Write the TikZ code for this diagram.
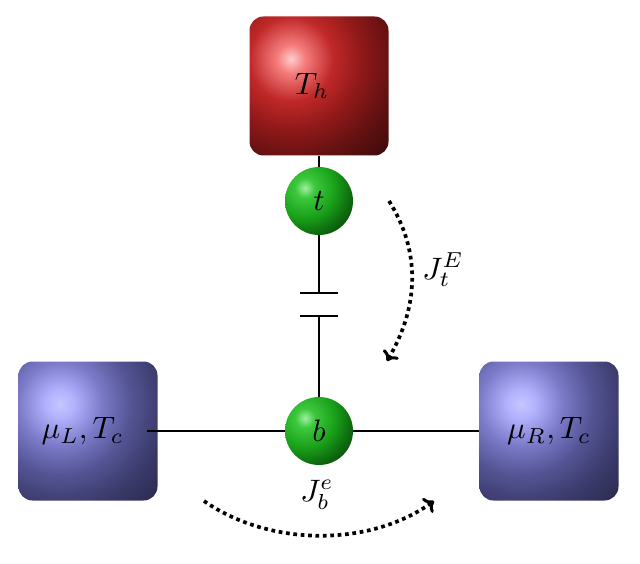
\documentclass[tikz,border=0pt]{standalone}
\usetikzlibrary{arrows.meta,shadings}
\definecolor{ra}{RGB}{255,205,205}\definecolor{rb}{RGB}{245,125,125}\definecolor{rc}{RGB}{192,40,40}\definecolor{rd}{RGB}{145,25,25}\definecolor{re}{RGB}{100,17,17}\definecolor{rf}{RGB}{55,10,10}
\definecolor{ba}{RGB}{198,198,255}\definecolor{bb}{RGB}{178,178,255}\definecolor{bc}{RGB}{122,122,200}\definecolor{bd}{RGB}{85,85,150}\definecolor{be}{RGB}{60,60,110}\definecolor{bf}{RGB}{40,40,75}
\definecolor{ga}{RGB}{160,238,160}\definecolor{gb}{RGB}{60,200,60}\definecolor{gc}{RGB}{25,160,25}\definecolor{gd}{RGB}{15,110,15}\definecolor{ge}{RGB}{10,85,10}
\pgfdeclareradialshading{boxred}{\pgfpointorigin}{color(0bp)=(ra);color(2.5bp)=(rb);color(7.5bp)=(rc);color(12.5bp)=(rd);color(17.9bp)=(re);color(25bp)=(rf);color(50bp)=(rf)}
\pgfdeclareradialshading{boxblue}{\pgfpointorigin}{color(0bp)=(ba);color(2.5bp)=(bb);color(7.5bp)=(bc);color(12.5bp)=(bd);color(17.9bp)=(be);color(25bp)=(bf);color(50bp)=(bf)}
\pgfdeclareradialshading{ballgreen}{\pgfpointorigin}{color(0bp)=(ga);color(4.6bp)=(gb);color(13.9bp)=(gc);color(20.8bp)=(gd);color(25bp)=(ge);color(50bp)=(ge)}
\begin{document}
\begin{tikzpicture}[x=1pt,y=-1pt,
 sq/.style={minimum size=139pt,inner sep=0pt,rounded corners=14pt,path picture={
   \shade[shading=#1] ([xshift=-28pt,yshift=27pt]path picture bounding box.center) circle (140pt);}},
 ballnode/.style={circle,minimum size=68pt,inner sep=0pt,path picture={
   \shade[shading=ballgreen] ([xshift=-14pt,yshift=13pt]path picture bounding box.center) circle (54pt);}},
 lab/.style={scale=3.1,inner sep=0pt},
 wire/.style={line width=2.3pt,black},
 flow/.style={line width=3.7pt,dash pattern=on 3.7pt off 3.7pt,-{Computer Modern Rightarrow[length=9pt,width=18pt,line width=3pt]}}]
\useasboundingbox (0,0) rectangle (640,564);
\coordinate (capT1) at (319,293);
\coordinate (capT2) at (319,316);
\coordinate (cL1) at (300,293); \coordinate (cR1) at (338,293);
\coordinate (cL2) at (300,316); \coordinate (cR2) at (338,316);
\coordinate (ws) at (147,431);
\coordinate (a1) at (389,201); \coordinate (a2) at (387,361);
\coordinate (a3) at (204,501); \coordinate (a4) at (434,501);
\node[sq=boxred] (Th) at (319,86) {};
\node[sq=boxblue] (L) at (88,431) {};
\node[sq=boxblue] (R) at (549,431) {};
\node[ballnode] (t) at (319,201) {};
\node[ballnode] (b) at (319,431) {};
\draw[wire] (Th) -- (t);
\draw[wire] (t) -- (capT1);
\draw[wire] (capT2) -- (b);
\draw[wire] (cL1) -- (cR1);
\draw[wire] (cL2) -- (cR2);
\draw[wire] (ws) -- (b);
\draw[wire] (b) -- (R);
\node[lab] at (312,86) {$T_h$};
\node[lab] at (t) {$t$};
\node[lab] at (b) {$b$};
\node[lab] at (82.5,431) {$\mu_L,T_c$};
\node[lab] at (R) {$\mu_R,T_c$};
\node[lab] at (443,270) {$J_t^E$};
\node[lab] at (317,495) {$J_b^e$};
\draw[flow] (a1) .. controls (420,250) and (420,305) .. (a2);
\draw[flow] (a3) .. controls (270,547) and (370,547) .. (a4);
\end{tikzpicture}
\end{document}
